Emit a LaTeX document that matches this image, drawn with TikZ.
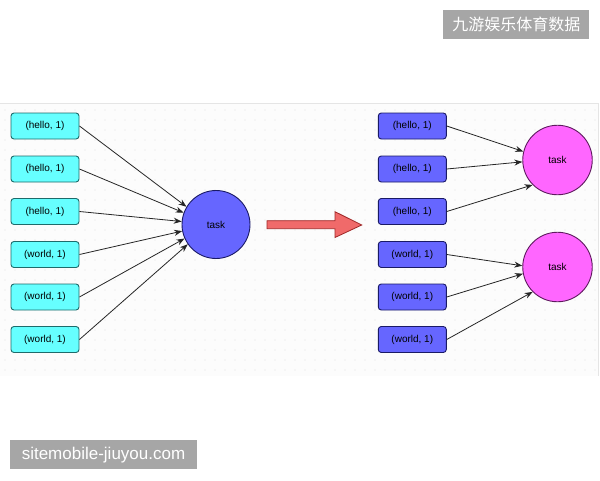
\documentclass[tikz,border=0pt]{standalone}
\usepackage{fontspec}
\setmainfont{Liberation Sans}
\newfontfamily\cjk{Noto Sans CJK SC}
\usetikzlibrary{arrows.meta}
\definecolor{cyanbox}{HTML}{66FFFF}
\definecolor{cyanedge}{HTML}{1E6B6B}
\definecolor{bluebox}{HTML}{6666FF}
\definecolor{blueedge}{HTML}{1A1A66}
\definecolor{magbox}{HTML}{FF66FF}
\definecolor{magedge}{HTML}{5E1A5E}
\definecolor{redfill}{HTML}{F06A6A}
\definecolor{rededge}{HTML}{A02828}
\definecolor{wmgray}{HTML}{A6A6A6}
\tikzset{
  kvbox/.style={draw, line width=0.9pt, rounded corners=3pt, minimum width=68pt, minimum height=26pt, inner sep=0pt, font=\fontsize{10}{12}\selectfont},
  cyanbox/.style={kvbox, fill=cyanbox, draw=cyanedge},
  bluebox/.style={kvbox, fill=bluebox, draw=blueedge},
  tasknode/.style={circle, draw, line width=0.9pt, inner sep=0pt, font=\fontsize{10}{12}\selectfont},
  conn/.style={draw=black!85, line width=0.8pt, -{Stealth[length=8pt,width=6pt]}},
  wm/.style={fill=wmgray, text=white, inner sep=0pt}
}
\begin{document}
\begin{tikzpicture}[x=1pt,y=-1pt]
\useasboundingbox (0,0) rectangle (600,480);
% panel
\fill[white] (0,0) rectangle (600,480);
\fill[black!1] (0,103.5) rectangle (598,376);
\draw[black!10, line width=0.8pt] (0,103.5) -- (598,103.5) -- (598,376);
\foreach \xx in {5,15,...,595} {
  \foreach \yy in {110,120,...,370} {
    \fill[black!12] (\xx,\yy) circle (0.55);
  }
}
% left boxes
\node[cyanbox] (l1) at (45,126) {(hello, 1)};
\node[cyanbox] (l2) at (45,169) {(hello, 1)};
\node[cyanbox] (l3) at (45,211.5) {(hello, 1)};
\node[cyanbox] (l4) at (45,254.5) {(world, 1)};
\node[cyanbox] (l5) at (45,297) {(world, 1)};
\node[cyanbox] (l6) at (45,339.5) {(world, 1)};
\node[tasknode, fill=bluebox, draw=blueedge, minimum size=68pt] (t0) at (216,224.5) {task};
\draw[conn] (l1.east) -- (t0.149);
\draw[conn] (l2.east) -- (t0.160);
\draw[conn] (l3.east) -- (t0.175);
\draw[conn] (l4.east) -- (t0.191);
\draw[conn] (l5.east) -- (t0.204);
\draw[conn] (l6.east) -- (t0.215);
% big arrow
\filldraw[fill=redfill, draw=rededge, line width=0.8pt, line join=miter]
  (267,220.7) -- (335,220.7) -- (335,211.7) -- (361.7,225) -- (335,237.5) -- (335,228.7) -- (267,228.7) -- cycle;
% right boxes
\node[bluebox] (r1) at (412.3,126) {(hello, 1)};
\node[bluebox] (r2) at (412.3,169) {(hello, 1)};
\node[bluebox] (r3) at (412.3,211.5) {(hello, 1)};
\node[bluebox] (r4) at (412.3,254.5) {(world, 1)};
\node[bluebox] (r5) at (412.3,297) {(world, 1)};
\node[bluebox] (r6) at (412.3,339.5) {(world, 1)};
\node[tasknode, fill=magbox, draw=magedge, minimum size=69.5pt] (t1) at (557.5,160) {task};
\node[tasknode, fill=magbox, draw=magedge, minimum size=69.5pt] (t2) at (557.5,267) {task};
\draw[conn] (r1.east) -- (t1.166);
\draw[conn] (r2.east) -- (t1.183);
\draw[conn] (r3.east) -- (t1.225);
\draw[conn] (r4.east) -- (t2.178);
\draw[conn] (r5.east) -- (t2.191);
\draw[conn] (r6.east) -- (t2.225);
% watermarks
\node[wm, minimum width=146pt, minimum height=29.5pt, font=\cjk\fontsize{16}{18}\selectfont] (wm1) at (516.3,24.7) {九游娱乐体育数据};
\node[wm, minimum width=187pt, minimum height=29.5pt, font=\fontsize{17}{20}\selectfont] (wm2) at (103.5,454.7) {sitemobile-jiuyou.com};
\end{tikzpicture}
\end{document}
